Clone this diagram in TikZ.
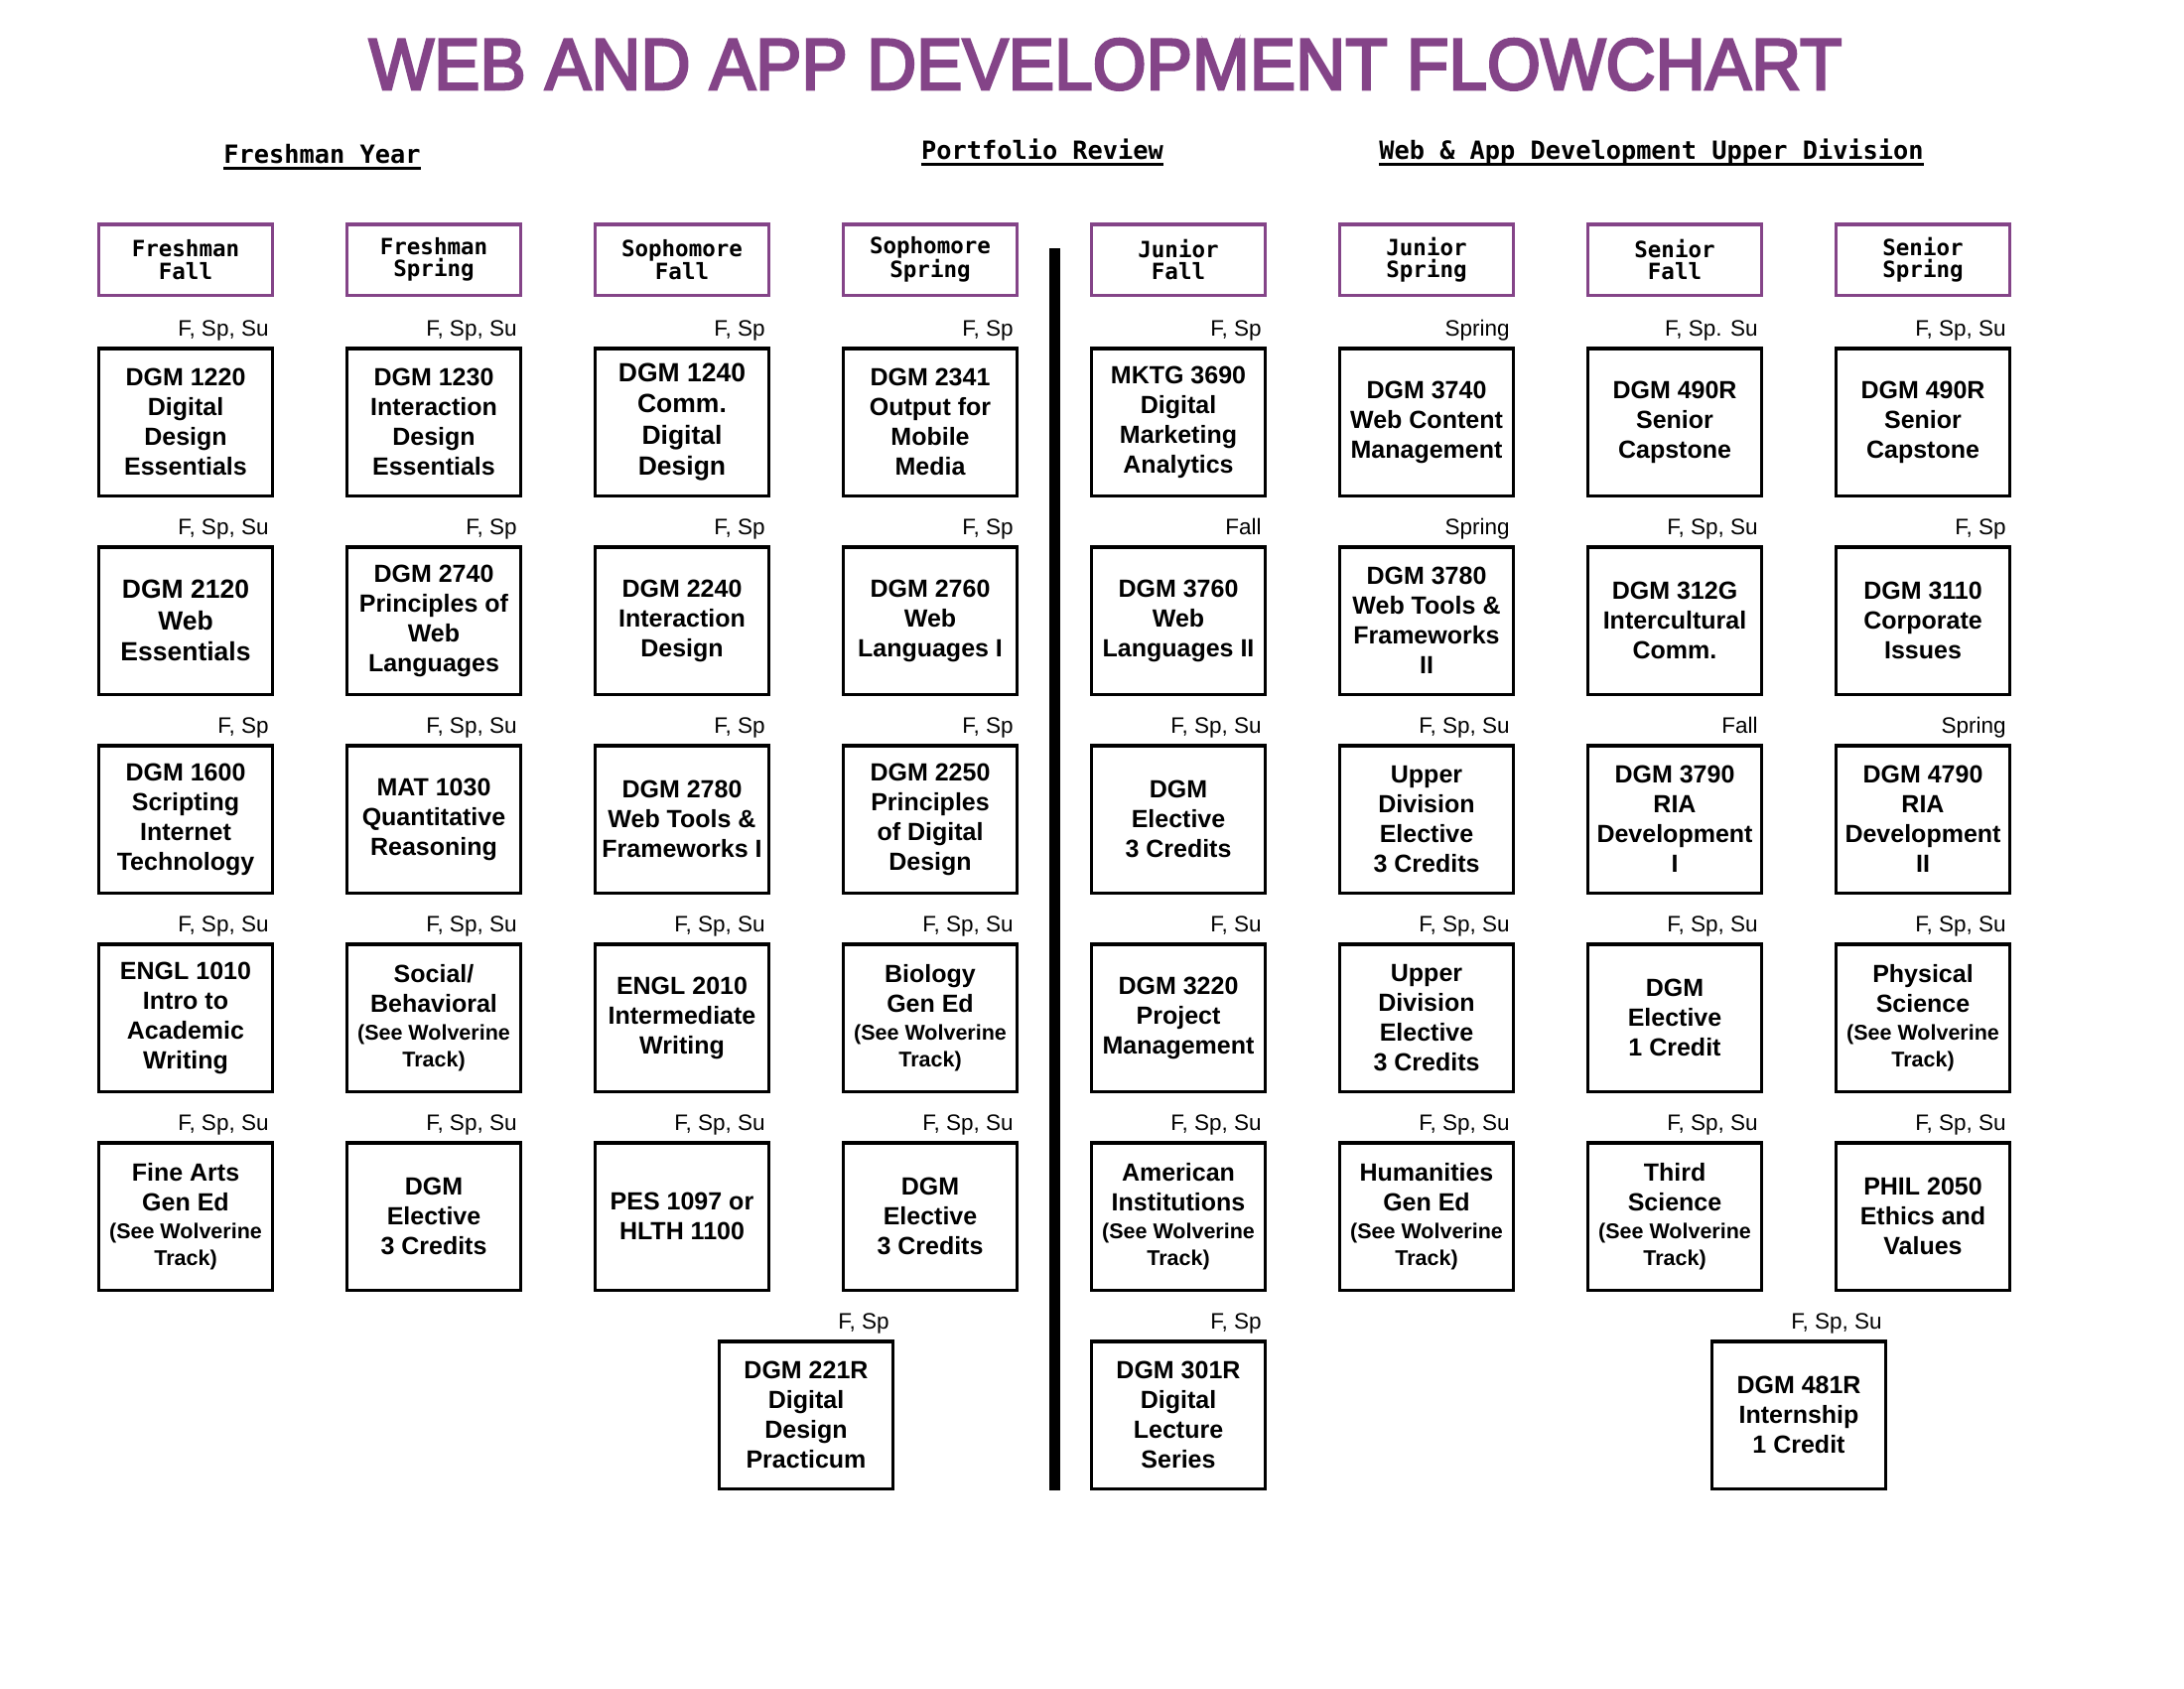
\documentclass[tikz,border=0pt]{standalone}
\usepackage{graphicx}
\usepackage{fontspec}
\setmainfont{Liberation Sans}
\newfontfamily\hmono{DejaVu Sans Mono}
\newfontfamily\titlefont[FakeBold=3.5]{Liberation Sans}
\definecolor{tpurple}{RGB}{132,68,136}
\newcommand\crsfont{\fontsize{25}{30}\selectfont\bfseries}
\newcommand\bigcrsfont{\fontsize{26.5}{31.5}\selectfont\bfseries}
\newcommand\sm{\fontsize{21.5}{26}\selectfont}
\newcommand\crs[6][]{%
  \node[course,#1] (#2) at (#3,#4) {#5};
  \node[term] (#2t) at ([xshift=-5.5pt,yshift=11pt]#2.north east) {#6};}
\begin{document}
\begin{tikzpicture}[x=1pt,y=-1pt,
  course/.style={draw, line width=3.5pt, minimum width=175pt, minimum height=148.5pt, inner sep=0pt, align=center, font=\crsfont},
  hdr/.style={draw=tpurple, line width=3.5pt, minimum width=175pt, minimum height=71.5pt, inner sep=0pt, align=center, font=\hmono\bfseries\fontsize{22.5}{22.5}\selectfont},
  term/.style={anchor=base east, inner sep=0pt, font=\fontsize{22.5}{24}\selectfont},
  heading/.style={anchor=base, inner sep=0pt, font=\hmono\bfseries\fontsize{25.3}{28}\selectfont},
  uline/.style={line width=3pt}
  ]
\fill[white] (0,0) rectangle (2200,1700);
\useasboundingbox (0,0) rectangle (2200,1700);

% title
\node[anchor=base, inner sep=0pt, text=tpurple] (title) at (1113.5,90)
  {\resizebox{1483pt}{51pt}{\titlefont WEB AND APP DEVELOPMENT FLOWCHART}};

% section headings
\node[heading] (hf) at (324.5,164) {Freshman Year};
\draw[uline] ([yshift=-5pt]hf.base west) -- ([yshift=-5pt]hf.base east);
\node[heading] (hp) at (1050,160) {Portfolio Review};
\draw[uline] ([yshift=-5pt]hp.base west) -- ([yshift=-5pt]hp.base east);
\node[heading] (hu) at (1663.5,160) {Web \& App Development Upper Division};
\draw[uline] ([yshift=-5pt]hu.base west) -- ([yshift=-5pt]hu.base east);

% semester headers
\node[hdr] (s1) at (187,261.5) {Freshman\\Fall};
\node[hdr] (s2) at (437,261.5) {Freshman\\Spring};
\node[hdr] (s3) at (687,261.5) {Sophomore\\Fall};
\node[hdr] (s4) at (937,261.5) {Sophomore\\Spring};
\node[hdr] (s5) at (1187,261.5) {Junior\\Fall};
\node[hdr] (s6) at (1437,261.5) {Junior\\Spring};
\node[hdr] (s7) at (1687,261.5) {Senior\\Fall};
\node[hdr] (s8) at (1937,261.5) {Senior\\Spring};

% divider
\draw[line width=11pt] (1062.5,250) -- (1062.5,1501);

% row 1
\crs{c11}{187}{425}{DGM 1220\\Digital\\Design\\Essentials}{F, Sp, Su}
\crs{c12}{437}{425}{DGM 1230\\Interaction\\Design\\Essentials}{F, Sp, Su}
\crs[font=\bigcrsfont]{c13}{687}{425}{DGM 1240\\Comm.\\Digital\\Design}{F, Sp}
\crs{c14}{937}{425}{DGM 2341\\Output for\\Mobile\\Media}{F, Sp}
\crs{c15}{1187}{425}{MKTG 3690\\Digital\\Marketing\\Analytics}{F, Sp}
\crs{c16}{1437}{425}{DGM 3740\\Web Content\\Management}{Spring}
\crs{c17}{1687}{425}{DGM 490R\\Senior\\Capstone}{F, Sp. Su}
\crs{c18}{1937}{425}{DGM 490R\\Senior\\Capstone}{F, Sp, Su}

% row 2
\crs[font=\bigcrsfont]{c21}{187}{625}{DGM 2120\\Web\\Essentials}{F, Sp, Su}
\crs{c22}{437}{625}{DGM 2740\\Principles of\\Web\\Languages}{F, Sp}
\crs{c23}{687}{625}{DGM 2240\\Interaction\\Design}{F, Sp}
\crs{c24}{937}{625}{DGM 2760\\Web\\Languages I}{F, Sp}
\crs{c25}{1187}{625}{DGM 3760\\Web\\Languages II}{Fall}
\crs{c26}{1437}{625}{DGM 3780\\Web Tools \&\\Frameworks\\II}{Spring}
\crs{c27}{1687}{625}{DGM 312G\\Intercultural\\Comm.}{F, Sp, Su}
\crs{c28}{1937}{625}{DGM 3110\\Corporate\\Issues}{F, Sp}

% row 3
\crs{c31}{187}{825}{DGM 1600\\Scripting\\Internet\\Technology}{F, Sp}
\crs{c32}{437}{825}{MAT 1030\\Quantitative\\Reasoning}{F, Sp, Su}
\crs{c33}{687}{825}{DGM 2780\\Web Tools \&\\Frameworks I}{F, Sp}
\crs{c34}{937}{825}{DGM 2250\\Principles\\of Digital\\Design}{F, Sp}
\crs{c35}{1187}{825}{DGM\\Elective\\3 Credits}{F, Sp, Su}
\crs{c36}{1437}{825}{Upper\\Division\\Elective\\3 Credits}{F, Sp, Su}
\crs{c37}{1687}{825}{DGM 3790\\RIA\\Development\\I}{Fall}
\crs{c38}{1937}{825}{DGM 4790\\RIA\\Development\\II}{Spring}

% row 4
\crs{c41}{187}{1025}{ENGL 1010\\Intro to\\Academic\\Writing}{F, Sp, Su}
\crs{c42}{437}{1025}{Social/\\Behavioral\\[-2pt]{\sm (See Wolverine}\\[-3pt]{\sm Track)}}{F, Sp, Su}
\crs{c43}{687}{1025}{ENGL 2010\\Intermediate\\Writing}{F, Sp, Su}
\crs{c44}{937}{1025}{Biology\\Gen Ed\\[-2pt]{\sm (See Wolverine}\\[-3pt]{\sm Track)}}{F, Sp, Su}
\crs{c45}{1187}{1025}{DGM 3220\\Project\\Management}{F, Su}
\crs{c46}{1437}{1025}{Upper\\Division\\Elective\\3 Credits}{F, Sp, Su}
\crs{c47}{1687}{1025}{DGM\\Elective\\1 Credit}{F, Sp, Su}
\crs{c48}{1937}{1025}{Physical\\Science\\[-2pt]{\sm (See Wolverine}\\[-3pt]{\sm Track)}}{F, Sp, Su}

% row 5
\crs{c51}{187}{1225}{Fine Arts\\Gen Ed\\[-2pt]{\sm (See Wolverine}\\[-3pt]{\sm Track)}}{F, Sp, Su}
\crs{c52}{437}{1225}{DGM\\Elective\\3 Credits}{F, Sp, Su}
\crs{c53}{687}{1225}{PES 1097 or\\HLTH 1100}{F, Sp, Su}
\crs{c54}{937}{1225}{DGM\\Elective\\3 Credits}{F, Sp, Su}
\crs{c55}{1187}{1225}{American\\Institutions\\[-2pt]{\sm (See Wolverine}\\[-3pt]{\sm Track)}}{F, Sp, Su}
\crs{c56}{1437}{1225}{Humanities\\Gen Ed\\[-2pt]{\sm (See Wolverine}\\[-3pt]{\sm Track)}}{F, Sp, Su}
\crs{c57}{1687}{1225}{Third\\Science\\[-2pt]{\sm (See Wolverine}\\[-3pt]{\sm Track)}}{F, Sp, Su}
\crs{c58}{1937}{1225}{PHIL 2050\\Ethics and\\Values}{F, Sp, Su}

% row 6
\crs{c61}{812}{1425}{DGM 221R\\Digital\\Design\\Practicum}{F, Sp}
\crs{c62}{1187}{1425}{DGM 301R\\Digital\\Lecture\\Series}{F, Sp}
\crs{c63}{1812}{1425}{DGM 481R\\Internship\\1 Credit}{F, Sp, Su}
\end{tikzpicture}
\end{document}
